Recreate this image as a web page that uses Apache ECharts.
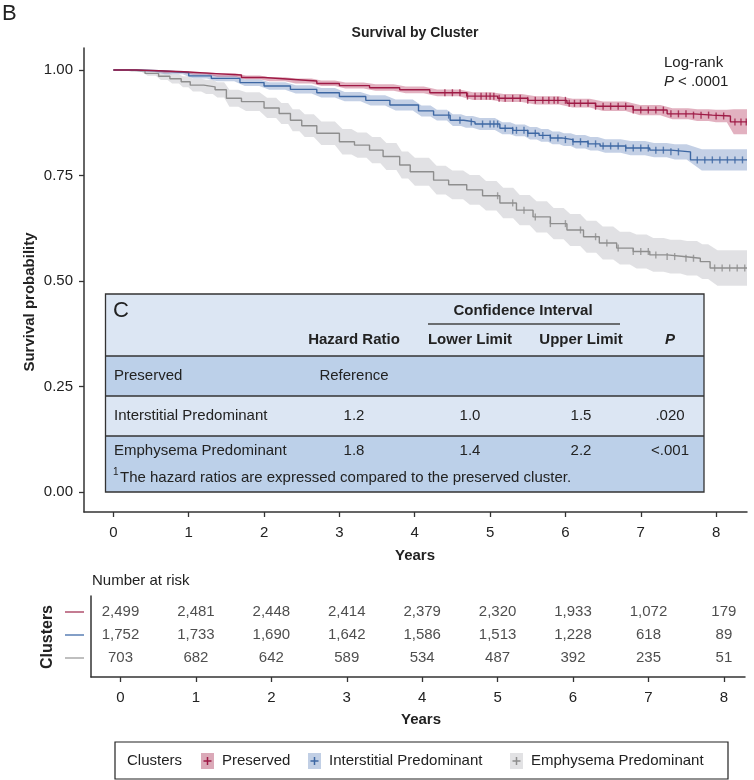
<!DOCTYPE html>
<html>
<head>
<meta charset="utf-8">
<script src="https://cdn.jsdelivr.net/npm/echarts@6/dist/echarts.min.js"></script>
<style>
html,body{margin:0;padding:0;background:#fff;}
#c{width:754px;height:780px;}
</style>
</head>
<body>
<div id="c"></div>
<script>
// ---------- DATA ----------
const yearTicks = [0,1,2,3,4,5,6,7,8];
const yTicks = [0,0.25,0.5,0.75,1];
const seriesNames = ['Preserved','Interstitial Predominant','Emphysema Predominant'];

const preservedT  = [0,0.3,0.6,1.0,1.3,1.7,2.0,2.35,2.7,3.0,3.4,3.8,4.2,4.69,5.1,5.5,6.02,6.4,6.9,7.35,7.7,7.95,8.19,8.41];
const preservedS  = [1.000,0.998,0.995,0.992,0.988,0.982,0.978,0.974,0.968,0.963,0.958,0.953,0.946,0.938,0.933,0.928,0.921,0.914,0.905,0.896,0.893,0.891,0.877,0.877];
const preservedLo = [1.000,0.997,0.993,0.989,0.984,0.978,0.973,0.968,0.962,0.956,0.951,0.945,0.938,0.929,0.924,0.918,0.911,0.903,0.893,0.883,0.879,0.876,0.848,0.848];
const preservedHi = [1.000,0.999,0.997,0.995,0.992,0.987,0.983,0.980,0.975,0.970,0.966,0.961,0.954,0.947,0.943,0.938,0.932,0.925,0.917,0.909,0.907,0.906,0.907,0.907];
const preservedCensor = [4.4,4.5,4.6,4.7,4.8,4.88,4.95,5.0,5.05,5.12,5.2,5.3,5.4,5.5,5.6,5.7,5.78,5.85,5.9,6.0,6.05,6.12,6.2,6.3,6.4,6.5,6.6,6.7,6.8,6.9,7.0,7.1,7.2,7.3,7.4,7.5,7.6,7.7,7.8,7.9,8.0,8.1,8.25,8.33,8.4];

const interT  = [0,0.3,0.6,1.0,1.3,1.68,2.0,2.35,2.7,3.0,3.35,3.67,4.05,4.25,4.47,4.65,4.8,5.13,5.3,5.5,5.65,5.8,5.95,6.1,6.3,6.46,6.8,7.12,7.4,7.66,8.41];
const interS  = [1.000,0.998,0.994,0.986,0.980,0.970,0.962,0.954,0.946,0.937,0.928,0.917,0.903,0.893,0.881,0.877,0.872,0.862,0.857,0.850,0.845,0.839,0.835,0.830,0.825,0.820,0.815,0.810,0.806,0.787,0.787];
const interLo = [1.000,0.996,0.990,0.980,0.973,0.962,0.953,0.944,0.935,0.926,0.916,0.904,0.890,0.880,0.867,0.863,0.858,0.848,0.843,0.835,0.830,0.824,0.820,0.814,0.809,0.804,0.798,0.793,0.788,0.762,0.762];
const interHi = [1.000,1.000,0.998,0.992,0.987,0.978,0.971,0.964,0.957,0.948,0.940,0.930,0.916,0.906,0.895,0.891,0.886,0.876,0.871,0.865,0.860,0.854,0.850,0.846,0.841,0.836,0.832,0.827,0.824,0.812,0.812];
const interCensor = [4.45,4.6,4.75,4.9,5.0,5.05,5.1,5.2,5.3,5.35,5.45,5.5,5.6,5.7,5.8,5.9,6.0,6.1,6.2,6.3,6.4,6.5,6.6,6.7,6.8,6.9,7.0,7.1,7.2,7.3,7.4,7.5,7.75,7.85,7.95,8.05,8.15,8.25,8.35];

const emphT  = [0,0.2,0.42,0.6,0.75,0.9,1.02,1.2,1.35,1.5,1.7,2.0,2.2,2.35,2.5,2.7,3.0,3.2,3.4,3.58,3.8,3.94,4.25,4.45,4.69,4.9,5.13,5.35,5.57,5.8,6.02,6.24,6.45,6.68,6.9,7.12,7.35,7.57,7.79,7.92,8.41];
const emphS  = [1.000,0.998,0.992,0.985,0.979,0.972,0.964,0.960,0.953,0.933,0.925,0.910,0.897,0.881,0.868,0.850,0.830,0.822,0.810,0.795,0.775,0.759,0.739,0.728,0.716,0.702,0.685,0.668,0.652,0.636,0.621,0.605,0.590,0.578,0.570,0.562,0.558,0.554,0.546,0.531,0.531];
const emphLo = [1.000,0.995,0.986,0.976,0.968,0.959,0.949,0.943,0.935,0.913,0.903,0.886,0.872,0.855,0.841,0.822,0.800,0.792,0.779,0.763,0.743,0.726,0.705,0.694,0.681,0.667,0.649,0.632,0.615,0.599,0.583,0.567,0.551,0.539,0.530,0.522,0.518,0.513,0.505,0.489,0.489];
const emphHi = [1.000,1.000,0.998,0.994,0.990,0.985,0.979,0.977,0.971,0.953,0.947,0.934,0.922,0.907,0.895,0.878,0.860,0.852,0.841,0.827,0.807,0.792,0.773,0.762,0.751,0.737,0.721,0.704,0.689,0.673,0.659,0.643,0.629,0.617,0.610,0.602,0.598,0.595,0.587,0.573,0.573];
const emphCensor = [5.1,5.3,5.45,5.6,5.8,6.0,6.2,6.4,6.55,6.7,6.9,7.0,7.1,7.2,7.35,7.45,7.6,7.7,7.98,8.08,8.18,8.28,8.38];

const preservedRisk = [2499,2481,2448,2414,2379,2320,1933,1072,179];
const interRisk     = [1752,1733,1690,1642,1586,1513,1228,618,89];
const emphRisk      = [703,682,642,589,534,487,392,235,51];

const hrRows   = ['Preserved','Interstitial Predominant','Emphysema Predominant'];
const hrValues = ['Reference','1.2','1.8'];
const hrLower  = ['','1.0','1.4'];
const hrUpper  = ['','1.5','2.2'];
const hrP      = ['','.020','<.001'];

// ---------- STYLE ----------
const FONT = '"Liberation Sans", Arial, sans-serif';
const lineCols = ['#9e1a45','#3d67a3','#8e8e8e'];
const bandCols = ['rgba(176,40,80,0.36)','rgba(70,110,175,0.32)','rgba(140,140,150,0.26)'];
const legBandCols = ['#dba9b8','#c1cfe5','#e2e2e4'];
const riskLineCols = ['#b0506e','#5a7fb5','#aaaaaa'];

const groups = [
  {T:preservedT,S:preservedS,Lo:preservedLo,Hi:preservedHi,C:preservedCensor,R:preservedRisk},
  {T:interT,S:interS,Lo:interLo,Hi:interHi,C:interCensor,R:interRisk},
  {T:emphT,S:emphS,Lo:emphLo,Hi:emphHi,C:emphCensor,R:emphRisk}
];

function stepAt(T,S,t){ let v=S[0]; for(let i=0;i<T.length;i++){ if(T[i]<=t) v=S[i]; } return v; }

// band: each step segment keeps its level over its central part, edges eased between steps
function bandRender(color){
  return function(params, api){
    if (params.dataIndexInside !== 0) return null;
    const n = params.dataInsideLength;
    const upper = [], lower = [];
    const t0 = api.value(0,0);
    upper.push(api.coord([t0, api.value(2,0)]));
    lower.push(api.coord([t0, api.value(1,0)]));
    for (let j=0;j<n-1;j++){
      const a = api.value(0,j), b = api.value(0,j+1), d = b-a;
      const lo = api.value(1,j), hi = api.value(2,j);
      const ta = j===0 ? a : a+0.2*d;
      const tb = j===n-2 ? b : b-0.2*d;
      upper.push(api.coord([ta,hi])); upper.push(api.coord([tb,hi]));
      lower.push(api.coord([ta,lo])); lower.push(api.coord([tb,lo]));
    }
    const pts = upper.concat(lower.reverse());
    return {type:'polygon', shape:{points:pts}, style:{fill:color}, silent:true};
  };
}

const series = [];
[2,1,0].forEach(gi=>{
  const g = groups[gi];
  series.push({
    type:'custom', xAxisIndex:0, yAxisIndex:0, renderItem:bandRender(bandCols[gi]), silent:true, z:1,
    clip:true, data:g.T.map((t,i)=>[t,g.Lo[i],g.Hi[i]])
  });
});
[2,1,0].forEach(gi=>{
  const g = groups[gi];
  series.push({
    name:seriesNames[gi], type:'line', xAxisIndex:0, yAxisIndex:0, step:'end', symbol:'none',
    lineStyle:{color:lineCols[gi], width:1.4}, data:g.T.map((t,i)=>[t,g.S[i]]), z:3
  });
  series.push({
    type:'scatter', xAxisIndex:0, yAxisIndex:0, symbol:'rect', symbolSize:[1.4,7], silent:true,
    itemStyle:{color:lineCols[gi]}, data:g.C.map(t=>[t, stepAt(g.T,g.S,t)]), z:4
  });
});
groups.forEach((g,gi)=>{
  series.push({
    type:'scatter', xAxisIndex:1, yAxisIndex:1, symbolSize:0, silent:true,
    label:{show:true, position:'inside', fontFamily:FONT, fontSize:15, color:'#222',
      formatter:p=>p.value[2].toLocaleString('en-US')},
    data:g.R.map((n,i)=>[yearTicks[i], gi, n])
  });
});

// ---------- GRAPHICS ----------
const G = [];
function txt(text,x,y,opt){ G.push({type:'text', x:x, y:y, z:10, style:Object.assign({text:text, font:'15px '+FONT, fill:'#222', textAlign:'left', textVerticalAlign:'middle'}, opt||{})}); }
function rect(x,y,w,h,style){ G.push({type:'rect', z:8, shape:{x:x,y:y,width:w,height:h}, style:style}); }
function line(x1,y1,x2,y2,color,w){ G.push({type:'line', z:9, shape:{x1:x1,y1:y1,x2:x2,y2:y2}, style:{stroke:color, lineWidth:w}}); }

txt('B',2,14,{font:'22px '+FONT, fill:'#222'});
txt('Survival by Cluster',415,33,{font:'bold 14px '+FONT, textAlign:'center'});
txt('Log-rank',664,63,{font:'15px '+FONT});
txt('P',664,82,{font:'italic 15px '+FONT});
txt('< .0001',678,82,{font:'15px '+FONT});
G.push({type:'text', x:30, y:302, rotation:Math.PI/2, z:10, style:{text:'Survival probability', font:'bold 15px '+FONT, fill:'#222', textAlign:'center', textVerticalAlign:'middle'}});
txt('Years',415,556,{font:'bold 15px '+FONT, textAlign:'center'});

const tx0=105.5, tx1=704, ty=[294,356,396,436,492];
const light='#dce6f3', dark='#bcd0e9';
rect(tx0,ty[0],tx1-tx0,ty[1]-ty[0],{fill:light});
rect(tx0,ty[1],tx1-tx0,ty[2]-ty[1],{fill:dark});
rect(tx0,ty[2],tx1-tx0,ty[3]-ty[2],{fill:light});
rect(tx0,ty[3],tx1-tx0,ty[4]-ty[3],{fill:dark});
rect(tx0,ty[0],tx1-tx0,ty[4]-ty[0],{fill:'none', stroke:'#333', lineWidth:1.3});
line(tx0,ty[1],tx1,ty[1],'#333',1.5);
line(tx0,ty[2],tx1,ty[2],'#333',1.5);
line(tx0,ty[3],tx1,ty[3],'#333',1.5);
txt('C',113,311,{font:'22px '+FONT});
txt('Confidence Interval',523,311,{font:'bold 15px '+FONT, textAlign:'center'});
line(428,324,620,324,'#444',1.5);
const colX=[354,470,581,670];
txt('Hazard Ratio',colX[0],340,{font:'bold 15px '+FONT, textAlign:'center'});
txt('Lower Limit',colX[1],340,{font:'bold 15px '+FONT, textAlign:'center'});
txt('Upper Limit',colX[2],340,{font:'bold 15px '+FONT, textAlign:'center'});
txt('P',colX[3],340,{font:'italic bold 15px '+FONT, textAlign:'center'});
const rowY=[376,416,451];
hrRows.forEach((r,i)=>{
  txt(r,114,rowY[i],{});
  txt(hrValues[i],colX[0],rowY[i],{textAlign:'center'});
  txt(hrLower[i],colX[1],rowY[i],{textAlign:'center'});
  txt(hrUpper[i],colX[2],rowY[i],{textAlign:'center'});
  txt(hrP[i],colX[3],rowY[i],{textAlign:'center'});
});
txt('1',113,472,{font:'10px '+FONT});
txt('The hazard ratios are expressed compared to the preserved cluster.',120,478,{});

txt('Number at risk',92,581,{});
G.push({type:'text', x:48, y:637, rotation:Math.PI/2, z:10, style:{text:'Clusters', font:'bold 16px '+FONT, fill:'#222', textAlign:'center', textVerticalAlign:'middle'}});
[612,635,658].forEach((y,i)=>line(65,y,84,y,riskLineCols[i],1.5));
txt('Years',421,720,{font:'bold 15px '+FONT, textAlign:'center'});

rect(115,742,613,37,{fill:'#fff', stroke:'#222', lineWidth:1.2});
txt('Clusters',127,761,{});
const legIcon=[201,308,510], legText=[222,329,531];
seriesNames.forEach((n,i)=>{
  rect(legIcon[i],753,13,16,{fill:legBandCols[i]});
  line(legIcon[i]+2.5,761,legIcon[i]+10.5,761,lineCols[i],1.5);
  line(legIcon[i]+6.5,757,legIcon[i]+6.5,765,lineCols[i],1.5);
  txt(n,legText[i],761,{});
});

const axisCol='#333';
const option = {
  animation:false,
  backgroundColor:'#fff',
  grid:[
    {left:84, top:48, width:663, height:464},
    {left:91, top:596, width:654, height:81}
  ],
  xAxis:[
    {type:'value', gridIndex:0, min:-0.39, max:8.41,
     axisLine:{show:true, onZero:false, lineStyle:{color:axisCol, width:1.5}},
     axisTick:{show:true, length:5, customValues:yearTicks, lineStyle:{color:axisCol, width:1.3}},
     axisLabel:{customValues:yearTicks, fontFamily:FONT, fontSize:15, color:'#222', margin:13},
     splitLine:{show:false}},
    {type:'value', gridIndex:1, min:-0.391, max:8.28,
     axisLine:{show:true, onZero:false, lineStyle:{color:axisCol, width:1.5}},
     axisTick:{show:true, length:5, customValues:yearTicks, lineStyle:{color:axisCol, width:1.3}},
     axisLabel:{customValues:yearTicks, fontFamily:FONT, fontSize:15, color:'#222', margin:13},
     splitLine:{show:false}}
  ],
  yAxis:[
    {type:'value', gridIndex:0, min:-0.047, max:1.052,
     axisLine:{show:true, onZero:false, lineStyle:{color:axisCol, width:1.5}},
     axisTick:{show:true, length:5, customValues:yTicks, lineStyle:{color:axisCol, width:1.3}},
     axisLabel:{customValues:yTicks, fontFamily:FONT, fontSize:15, color:'#222', margin:11, formatter:v=>v.toFixed(2)},
     splitLine:{show:false}},
    {type:'value', gridIndex:1, min:-0.7, max:2.83, inverse:true,
     axisLine:{show:true, onZero:false, lineStyle:{color:axisCol, width:1.5}},
     axisTick:{show:false}, axisLabel:{show:false}, splitLine:{show:false}}
  ],
  series:series,
  graphic:G
};
const chart = echarts.init(document.getElementById('c'), null, {renderer:'canvas'});
chart.setOption(option);
</script>
</body>
</html>
